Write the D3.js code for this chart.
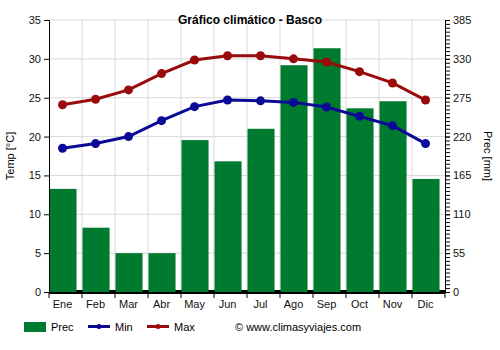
<!DOCTYPE html>
<html><head><meta charset="utf-8">
<script src="https://d3js.org/d3.v7.min.js"></script>
<style>body{margin:0;background:#fff}svg{display:block;font-family:"Liberation Sans",Arial,sans-serif}</style>
</head><body><svg id="c" width="500" height="350"></svg>
<script>
const months=["Ene","Feb","Mar","Abr","May","Jun","Jul","Ago","Sep","Oct","Nov","Dic"];
const prec=[146,91,55,55,215,185,231,321,345,260,270,160];
const tmin=[18.5,19.1,20.0,22.05,23.85,24.7,24.6,24.4,23.8,22.6,21.4,19.1];
const tmax=[24.1,24.8,26.0,28.1,29.85,30.4,30.4,30.0,29.6,28.35,26.9,24.7];
const tempTicks=[0,5,10,15,20,25,30,35];
const precTicks=[0,55,110,165,220,275,330,385];

const svg=d3.select("#c");
const L=49,R=445,T=20,B=292;
const x=d3.scaleBand().domain(months).range([L,R]).paddingInner(0).paddingOuter(0);
const yT=d3.scaleLinear().domain([0,35]).range([B,T]);
const yP=d3.scaleLinear().domain([0,385]).range([B,T]);
const bw=x.bandwidth()*0.82;
const cx=m=>x(m)+bw/2;
const green="#007a2f",blue="#0a0a96",red="#990a0a";

// grid
svg.append("g").selectAll("line.h").data(tempTicks).join("line")
 .attr("x1",L).attr("x2",R).attr("y1",d=>yT(d)).attr("y2",d=>yT(d))
 .attr("stroke","#d9d9d9").attr("stroke-width",1);
svg.append("g").selectAll("line.v").data(months.slice(1)).join("line")
 .attr("x1",d=>x(d)).attr("x2",d=>x(d)).attr("y1",T).attr("y2",B)
 .attr("stroke","#d9d9d9").attr("stroke-width",1);

// baseline
svg.append("line").attr("x1",L).attr("x2",R).attr("y1",B).attr("y2",B).attr("stroke","#000").attr("stroke-width",4);

// bars
svg.append("g").selectAll("rect").data(prec).join("rect")
 .attr("x",(d,i)=>x(months[i])+0.5).attr("width",bw)
 .attr("y",d=>yP(d)).attr("height",d=>B-yP(d)).attr("fill",green);

// lines
function series(data,col){
  const line=d3.line().x((d,i)=>cx(months[i])).y(d=>yT(d));
  svg.append("path").datum(data).attr("d",line).attr("fill","none").attr("stroke",col).attr("stroke-width",3);
  svg.append("g").selectAll("circle").data(data).join("circle")
   .attr("cx",(d,i)=>cx(months[i])).attr("cy",d=>yT(d)).attr("r",4.5).attr("fill",col);
}
series(tmax,red);
series(tmin,blue);

// left axis
const la=svg.append("g").attr("transform",`translate(${L},0)`)
 .call(d3.axisLeft(yT).tickValues(tempTicks).tickSize(5).tickPadding(3));
// right axis
const ra=svg.append("g").attr("transform",`translate(${R},0)`)
 .call(d3.axisRight(yP).tickValues(precTicks).tickSize(5).tickPadding(3));
svg.append("g").attr("transform",`translate(${R},0)`)
 .call(d3.axisRight(yP).tickValues(d3.range(0,385.1,5.5)).tickSize(5).tickFormat(""))
 .select(".domain").remove();
// bottom axis
const ba=svg.append("g").attr("transform",`translate(0,${B})`)
 .call(d3.axisBottom(x).tickSize(0).tickPadding(8));
ba.selectAll(".tick text").attr("dx",bw/2-x.bandwidth()/2);
ba.select(".domain").remove();
svg.append("g").selectAll("line").data(months.concat(["end"])).join("line")
 .attr("x1",(d,i)=>L+i*x.bandwidth()).attr("x2",(d,i)=>L+i*x.bandwidth())
 .attr("y1",B).attr("y2",B+6).attr("stroke","#000");

[la,ra,ba].forEach(a=>{a.selectAll("text").attr("font-size",11).attr("fill","#111").attr("font-family","Liberation Sans, Arial, sans-serif");
 a.selectAll("path,line").attr("stroke","#000");});

// title
svg.append("text").attr("x",250).attr("y",24).attr("text-anchor","middle").attr("font-size",12).attr("font-weight","bold").text("Gráfico climático - Basco");
svg.append("text").attr("transform","translate(14,156) rotate(-90)").attr("text-anchor","middle").attr("font-size",11).text("Temp [°C]");
svg.append("text").attr("transform","translate(484,156) rotate(90)").attr("text-anchor","middle").attr("font-size",11).text("Prec [mm]");

// legend
const lg=svg.append("g").attr("font-size",11);
lg.append("rect").attr("x",24).attr("y",322).attr("width",22).attr("height",10).attr("fill",green);
lg.append("text").attr("x",51).attr("y",331).text("Prec");
lg.append("line").attr("x1",88).attr("x2",110).attr("y1",326.5).attr("y2",326.5).attr("stroke",blue).attr("stroke-width",3);
lg.append("circle").attr("cx",99).attr("cy",326.5).attr("r",2.5).attr("fill",blue);
lg.append("text").attr("x",115).attr("y",331).text("Min");
lg.append("line").attr("x1",147).attr("x2",169).attr("y1",326.5).attr("y2",326.5).attr("stroke",red).attr("stroke-width",3);
lg.append("circle").attr("cx",158).attr("cy",326.5).attr("r",2.5).attr("fill",red);
lg.append("text").attr("x",174).attr("y",331).text("Max");
lg.append("text").attr("x",235).attr("y",331).text("© www.climasyviajes.com");
</script></body></html>
